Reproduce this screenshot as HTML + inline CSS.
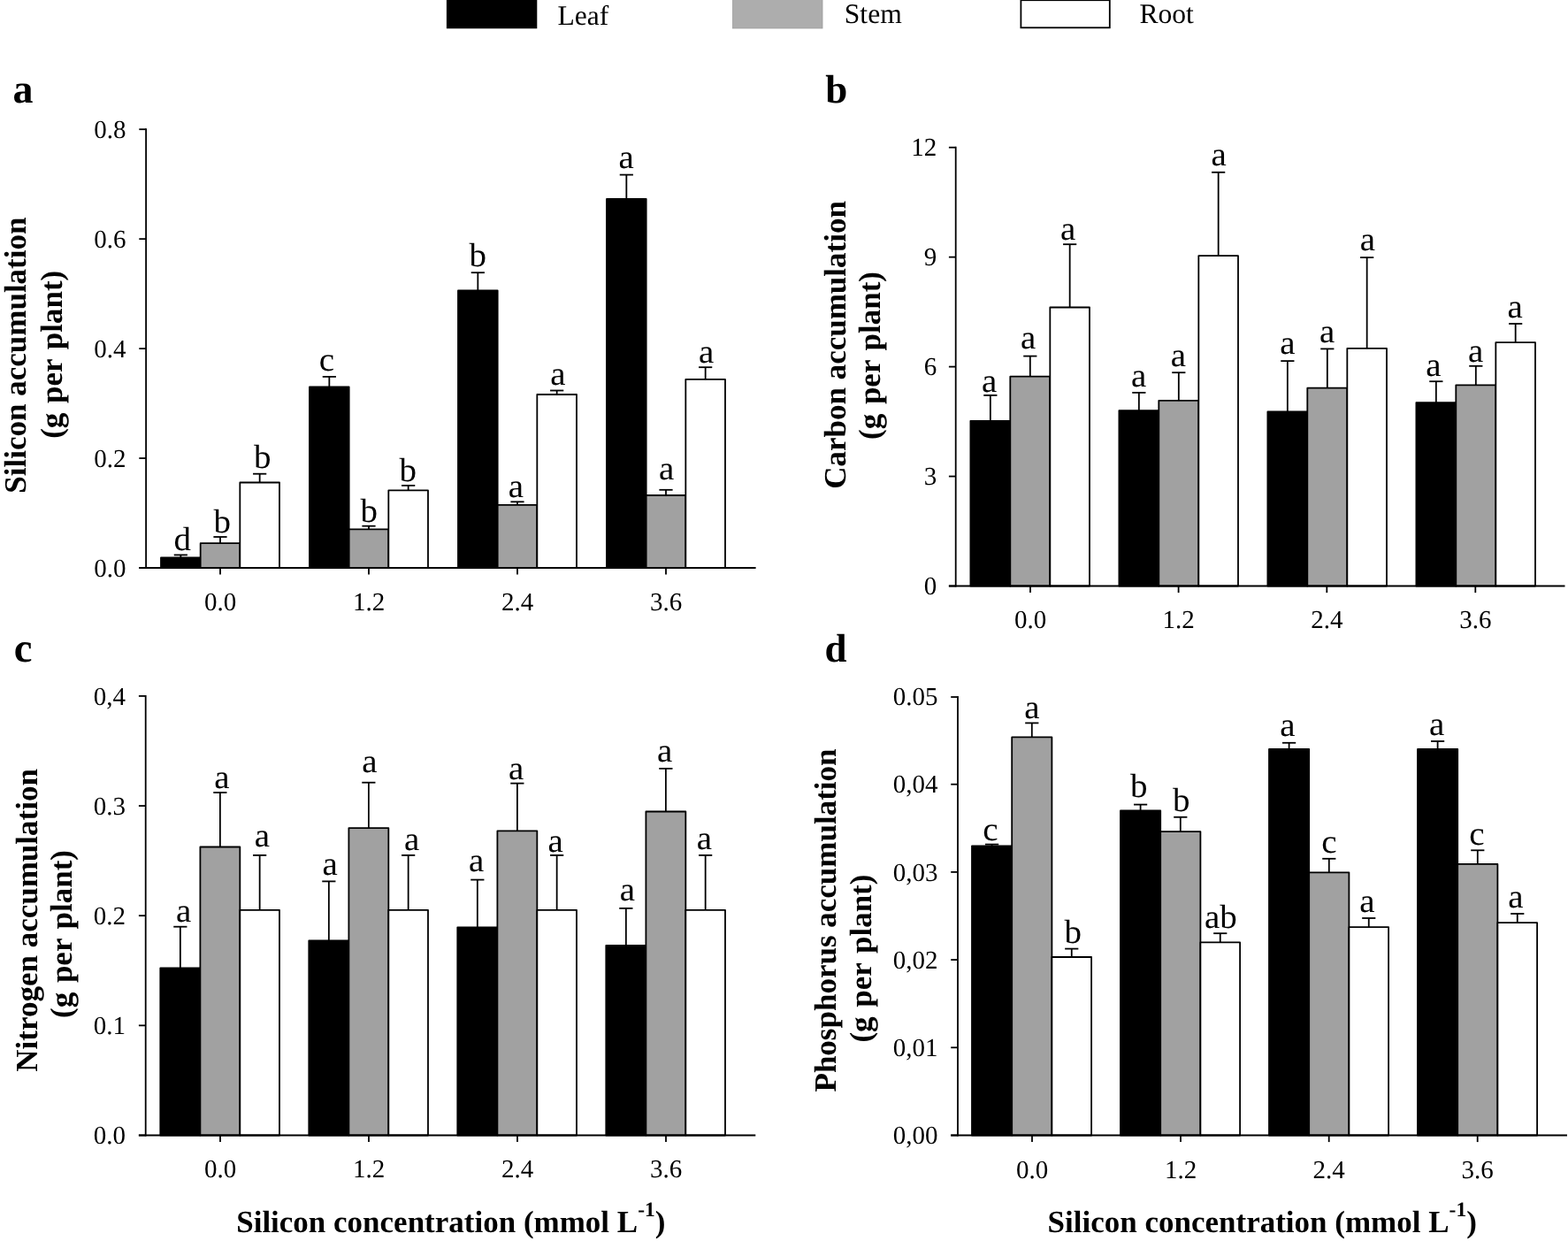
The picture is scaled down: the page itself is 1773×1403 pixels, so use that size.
<!DOCTYPE html>
<html lang="en"><head><meta charset="utf-8"><title>Silicon, carbon, nitrogen and phosphorus accumulation</title>
<style>
html,body{margin:0;padding:0;background:#fff;}
body{width:1773px;height:1403px;overflow:hidden;}
svg{display:block;font-family:"Liberation Serif","DejaVu Serif",serif;fill:#000;text-rendering:geometricPrecision;}
figure{margin:0;padding:0;width:1773px;height:1403px;}
</style></head><body>
<figure>
<svg width="1773" height="1403" viewBox="0 0 1773 1403" role="img" aria-label="Bar charts of silicon, carbon, nitrogen and phosphorus accumulation in leaf, stem and root at four silicon concentrations">
<rect x="0" y="0" width="1773" height="1403" fill="#fff"/>
<rect x="505.8" y="-2" width="100.6" height="33.4" fill="#000" stroke="#000" stroke-width="1.8"/>
<rect x="828.6" y="-2" width="101.4" height="34" fill="#adadad" stroke="#9c9c9c" stroke-width="0.8"/>
<rect x="1154.4" y="0.2" width="100.4" height="31.1" fill="#fff" stroke="#000" stroke-width="1.8"/>
<text x="630.4" y="27.7" font-size="31.6" text-anchor="start">Leaf</text>
<text x="954.8" y="25.7" font-size="31.6" text-anchor="start">Stem</text>
<text x="1288.4" y="25.7" font-size="31.6" text-anchor="start">Root</text>
<line x1="204.34" y1="630.3" x2="204.34" y2="627.4" stroke="#000" stroke-width="1.8" stroke-linecap="butt"/>
<line x1="196.74" y1="627.4" x2="211.94" y2="627.4" stroke="#000" stroke-width="1.8" stroke-linecap="butt"/>
<rect x="182" y="630.3" width="44.67" height="11.7" fill="#000" stroke="#000" stroke-width="1.8" stroke-linejoin="round"/>
<text transform="translate(206.36 622.4) scale(1 0.97)" font-size="39" text-anchor="middle">d</text>
<line x1="249" y1="614.2" x2="249" y2="607" stroke="#000" stroke-width="1.8" stroke-linecap="butt"/>
<line x1="241.4" y1="607" x2="256.6" y2="607" stroke="#000" stroke-width="1.8" stroke-linecap="butt"/>
<rect x="226.67" y="614.2" width="44.66" height="27.8" fill="#a1a1a1" stroke="#000" stroke-width="1.8" stroke-linejoin="round"/>
<text transform="translate(251.23 602) scale(1 0.97)" font-size="39" text-anchor="middle">b</text>
<line x1="293.66" y1="545.5" x2="293.66" y2="535.7" stroke="#000" stroke-width="1.8" stroke-linecap="butt"/>
<line x1="286.06" y1="535.7" x2="301.26" y2="535.7" stroke="#000" stroke-width="1.8" stroke-linecap="butt"/>
<rect x="271.33" y="545.5" width="44.67" height="96.5" fill="#fff" stroke="#000" stroke-width="1.8" stroke-linejoin="round"/>
<text transform="translate(296.83 528.9) scale(1 0.97)" font-size="39" text-anchor="middle">b</text>
<line x1="372.34" y1="437.5" x2="372.34" y2="425.9" stroke="#000" stroke-width="1.8" stroke-linecap="butt"/>
<line x1="364.74" y1="425.9" x2="379.94" y2="425.9" stroke="#000" stroke-width="1.8" stroke-linecap="butt"/>
<rect x="350" y="437.5" width="44.67" height="204.5" fill="#000" stroke="#000" stroke-width="1.8" stroke-linejoin="round"/>
<text transform="translate(369.38 418.9) scale(1 0.97)" font-size="39" text-anchor="middle">c</text>
<line x1="417" y1="598.3" x2="417" y2="594.7" stroke="#000" stroke-width="1.8" stroke-linecap="butt"/>
<line x1="409.4" y1="594.7" x2="424.6" y2="594.7" stroke="#000" stroke-width="1.8" stroke-linecap="butt"/>
<rect x="394.67" y="598.3" width="44.66" height="43.7" fill="#a1a1a1" stroke="#000" stroke-width="1.8" stroke-linejoin="round"/>
<text transform="translate(417.23 589.6) scale(1 0.97)" font-size="39" text-anchor="middle">b</text>
<line x1="461.66" y1="554.3" x2="461.66" y2="548.9" stroke="#000" stroke-width="1.8" stroke-linecap="butt"/>
<line x1="454.06" y1="548.9" x2="469.26" y2="548.9" stroke="#000" stroke-width="1.8" stroke-linecap="butt"/>
<rect x="439.33" y="554.3" width="44.67" height="87.7" fill="#fff" stroke="#000" stroke-width="1.8" stroke-linejoin="round"/>
<text transform="translate(461.33 543.7) scale(1 0.97)" font-size="39" text-anchor="middle">b</text>
<line x1="540.34" y1="328.5" x2="540.34" y2="308.2" stroke="#000" stroke-width="1.8" stroke-linecap="butt"/>
<line x1="532.74" y1="308.2" x2="547.94" y2="308.2" stroke="#000" stroke-width="1.8" stroke-linecap="butt"/>
<rect x="518" y="328.5" width="44.67" height="313.5" fill="#000" stroke="#000" stroke-width="1.8" stroke-linejoin="round"/>
<text transform="translate(540.13 301.4) scale(1 0.97)" font-size="39" text-anchor="middle">b</text>
<line x1="585" y1="570.8" x2="585" y2="567.3" stroke="#000" stroke-width="1.8" stroke-linecap="butt"/>
<line x1="577.4" y1="567.3" x2="592.6" y2="567.3" stroke="#000" stroke-width="1.8" stroke-linecap="butt"/>
<rect x="562.67" y="570.8" width="44.66" height="71.2" fill="#a1a1a1" stroke="#000" stroke-width="1.8" stroke-linejoin="round"/>
<text transform="translate(583.39 561.8) scale(1 0.97)" font-size="39" text-anchor="middle">a</text>
<line x1="629.66" y1="446" x2="629.66" y2="441.5" stroke="#000" stroke-width="1.8" stroke-linecap="butt"/>
<line x1="622.06" y1="441.5" x2="637.26" y2="441.5" stroke="#000" stroke-width="1.8" stroke-linecap="butt"/>
<rect x="607.33" y="446" width="44.67" height="196" fill="#fff" stroke="#000" stroke-width="1.8" stroke-linejoin="round"/>
<text transform="translate(630.89 434.9) scale(1 0.97)" font-size="39" text-anchor="middle">a</text>
<line x1="708.34" y1="224.9" x2="708.34" y2="197.6" stroke="#000" stroke-width="1.8" stroke-linecap="butt"/>
<line x1="700.74" y1="197.6" x2="715.94" y2="197.6" stroke="#000" stroke-width="1.8" stroke-linecap="butt"/>
<rect x="686" y="224.9" width="44.67" height="417.1" fill="#000" stroke="#000" stroke-width="1.8" stroke-linejoin="round"/>
<text transform="translate(708.19 189.6) scale(1 0.97)" font-size="39" text-anchor="middle">a</text>
<line x1="753" y1="560" x2="753" y2="553.8" stroke="#000" stroke-width="1.8" stroke-linecap="butt"/>
<line x1="745.4" y1="553.8" x2="760.6" y2="553.8" stroke="#000" stroke-width="1.8" stroke-linecap="butt"/>
<rect x="730.67" y="560" width="44.66" height="82" fill="#a1a1a1" stroke="#000" stroke-width="1.8" stroke-linejoin="round"/>
<text transform="translate(753.59 541.5) scale(1 0.97)" font-size="39" text-anchor="middle">a</text>
<line x1="797.66" y1="428.9" x2="797.66" y2="415.2" stroke="#000" stroke-width="1.8" stroke-linecap="butt"/>
<line x1="790.06" y1="415.2" x2="805.26" y2="415.2" stroke="#000" stroke-width="1.8" stroke-linecap="butt"/>
<rect x="775.33" y="428.9" width="44.67" height="213.1" fill="#fff" stroke="#000" stroke-width="1.8" stroke-linejoin="round"/>
<text transform="translate(798.59 409.6) scale(1 0.97)" font-size="39" text-anchor="middle">a</text>
<line x1="165.1" y1="145.3" x2="165.1" y2="642.9" stroke="#000" stroke-width="1.8" stroke-linecap="butt"/>
<line x1="157.3" y1="642" x2="854.6" y2="642" stroke="#000" stroke-width="1.8" stroke-linecap="butt"/>
<line x1="157.3" y1="642" x2="165.1" y2="642" stroke="#000" stroke-width="1.8" stroke-linecap="butt"/>
<text x="142.5" y="651.7" font-size="29" text-anchor="end">0.0</text>
<line x1="157.3" y1="518.05" x2="165.1" y2="518.05" stroke="#000" stroke-width="1.8" stroke-linecap="butt"/>
<text x="142.5" y="527.75" font-size="29" text-anchor="end">0.2</text>
<line x1="157.3" y1="394.1" x2="165.1" y2="394.1" stroke="#000" stroke-width="1.8" stroke-linecap="butt"/>
<text x="142.5" y="403.8" font-size="29" text-anchor="end">0.4</text>
<line x1="157.3" y1="270.15" x2="165.1" y2="270.15" stroke="#000" stroke-width="1.8" stroke-linecap="butt"/>
<text x="142.5" y="279.85" font-size="29" text-anchor="end">0.6</text>
<line x1="157.3" y1="146.2" x2="165.1" y2="146.2" stroke="#000" stroke-width="1.8" stroke-linecap="butt"/>
<text x="142.5" y="155.9" font-size="29" text-anchor="end">0.8</text>
<line x1="249" y1="642" x2="249" y2="649.6" stroke="#000" stroke-width="1.8" stroke-linecap="butt"/>
<text x="249" y="689.8" font-size="29" text-anchor="middle">0.0</text>
<line x1="417" y1="642" x2="417" y2="649.6" stroke="#000" stroke-width="1.8" stroke-linecap="butt"/>
<text x="417" y="689.8" font-size="29" text-anchor="middle">1.2</text>
<line x1="585" y1="642" x2="585" y2="649.6" stroke="#000" stroke-width="1.8" stroke-linecap="butt"/>
<text x="585" y="689.8" font-size="29" text-anchor="middle">2.4</text>
<line x1="753" y1="642" x2="753" y2="649.6" stroke="#000" stroke-width="1.8" stroke-linecap="butt"/>
<text x="753" y="689.8" font-size="29" text-anchor="middle">3.6</text>
<text transform="translate(29 401.6) rotate(-90)" font-size="35" font-weight="bold" text-anchor="middle">Silicon accumulation</text>
<text transform="translate(70 400.8) rotate(-90)" font-size="35" font-weight="bold" text-anchor="middle" word-spacing="2">(g per plant)</text>
<text x="14.6" y="115.8" font-size="46" text-anchor="start" font-weight="bold">a</text>
<line x1="1119.85" y1="475.8" x2="1119.85" y2="446.9" stroke="#000" stroke-width="1.8" stroke-linecap="butt"/>
<line x1="1112.25" y1="446.9" x2="1127.45" y2="446.9" stroke="#000" stroke-width="1.8" stroke-linecap="butt"/>
<rect x="1097.4" y="475.8" width="44.9" height="186.7" fill="#000" stroke="#000" stroke-width="1.8" stroke-linejoin="round"/>
<text transform="translate(1118.59 442.9) scale(1 0.97)" font-size="39" text-anchor="middle">a</text>
<line x1="1164.82" y1="425.7" x2="1164.82" y2="402.6" stroke="#000" stroke-width="1.8" stroke-linecap="butt"/>
<line x1="1157.22" y1="402.6" x2="1172.41" y2="402.6" stroke="#000" stroke-width="1.8" stroke-linecap="butt"/>
<rect x="1142.3" y="425.7" width="45.03" height="236.8" fill="#a1a1a1" stroke="#000" stroke-width="1.8" stroke-linejoin="round"/>
<text transform="translate(1162.59 393.9) scale(1 0.97)" font-size="39" text-anchor="middle">a</text>
<line x1="1209.66" y1="347.5" x2="1209.66" y2="276.2" stroke="#000" stroke-width="1.8" stroke-linecap="butt"/>
<line x1="1202.07" y1="276.2" x2="1217.26" y2="276.2" stroke="#000" stroke-width="1.8" stroke-linecap="butt"/>
<rect x="1187.33" y="347.5" width="44.67" height="315" fill="#fff" stroke="#000" stroke-width="1.8" stroke-linejoin="round"/>
<text transform="translate(1207.59 270.7) scale(1 0.97)" font-size="39" text-anchor="middle">a</text>
<line x1="1287.85" y1="464.1" x2="1287.85" y2="443.9" stroke="#000" stroke-width="1.8" stroke-linecap="butt"/>
<line x1="1280.25" y1="443.9" x2="1295.45" y2="443.9" stroke="#000" stroke-width="1.8" stroke-linecap="butt"/>
<rect x="1265.4" y="464.1" width="44.9" height="198.4" fill="#000" stroke="#000" stroke-width="1.8" stroke-linejoin="round"/>
<text transform="translate(1287.59 437.1) scale(1 0.97)" font-size="39" text-anchor="middle">a</text>
<line x1="1332.82" y1="452.9" x2="1332.82" y2="421.2" stroke="#000" stroke-width="1.8" stroke-linecap="butt"/>
<line x1="1325.22" y1="421.2" x2="1340.41" y2="421.2" stroke="#000" stroke-width="1.8" stroke-linecap="butt"/>
<rect x="1310.3" y="452.9" width="45.03" height="209.6" fill="#a1a1a1" stroke="#000" stroke-width="1.8" stroke-linejoin="round"/>
<text transform="translate(1332.39 414) scale(1 0.97)" font-size="39" text-anchor="middle">a</text>
<line x1="1377.66" y1="289.1" x2="1377.66" y2="194.8" stroke="#000" stroke-width="1.8" stroke-linecap="butt"/>
<line x1="1370.07" y1="194.8" x2="1385.26" y2="194.8" stroke="#000" stroke-width="1.8" stroke-linecap="butt"/>
<rect x="1355.33" y="289.1" width="44.67" height="373.4" fill="#fff" stroke="#000" stroke-width="1.8" stroke-linejoin="round"/>
<text transform="translate(1378.19 186.6) scale(1 0.97)" font-size="39" text-anchor="middle">a</text>
<line x1="1455.85" y1="465.5" x2="1455.85" y2="408.1" stroke="#000" stroke-width="1.8" stroke-linecap="butt"/>
<line x1="1448.25" y1="408.1" x2="1463.45" y2="408.1" stroke="#000" stroke-width="1.8" stroke-linecap="butt"/>
<rect x="1433.4" y="465.5" width="44.9" height="197" fill="#000" stroke="#000" stroke-width="1.8" stroke-linejoin="round"/>
<text transform="translate(1455.79 399.9) scale(1 0.97)" font-size="39" text-anchor="middle">a</text>
<line x1="1500.82" y1="438.7" x2="1500.82" y2="394.4" stroke="#000" stroke-width="1.8" stroke-linecap="butt"/>
<line x1="1493.22" y1="394.4" x2="1508.41" y2="394.4" stroke="#000" stroke-width="1.8" stroke-linecap="butt"/>
<rect x="1478.3" y="438.7" width="45.03" height="223.8" fill="#a1a1a1" stroke="#000" stroke-width="1.8" stroke-linejoin="round"/>
<text transform="translate(1500.59 386.8) scale(1 0.97)" font-size="39" text-anchor="middle">a</text>
<line x1="1545.66" y1="393.9" x2="1545.66" y2="291.1" stroke="#000" stroke-width="1.8" stroke-linecap="butt"/>
<line x1="1538.07" y1="291.1" x2="1553.26" y2="291.1" stroke="#000" stroke-width="1.8" stroke-linecap="butt"/>
<rect x="1523.33" y="393.9" width="44.67" height="268.6" fill="#fff" stroke="#000" stroke-width="1.8" stroke-linejoin="round"/>
<text transform="translate(1546.39 282.5) scale(1 0.97)" font-size="39" text-anchor="middle">a</text>
<line x1="1623.85" y1="455.1" x2="1623.85" y2="431.2" stroke="#000" stroke-width="1.8" stroke-linecap="butt"/>
<line x1="1616.25" y1="431.2" x2="1631.45" y2="431.2" stroke="#000" stroke-width="1.8" stroke-linecap="butt"/>
<rect x="1601.4" y="455.1" width="44.9" height="207.4" fill="#000" stroke="#000" stroke-width="1.8" stroke-linejoin="round"/>
<text transform="translate(1620.99 424.5) scale(1 0.97)" font-size="39" text-anchor="middle">a</text>
<line x1="1668.82" y1="435.3" x2="1668.82" y2="413.8" stroke="#000" stroke-width="1.8" stroke-linecap="butt"/>
<line x1="1661.22" y1="413.8" x2="1676.41" y2="413.8" stroke="#000" stroke-width="1.8" stroke-linecap="butt"/>
<rect x="1646.3" y="435.3" width="45.03" height="227.2" fill="#a1a1a1" stroke="#000" stroke-width="1.8" stroke-linejoin="round"/>
<text transform="translate(1668.59 408.9) scale(1 0.97)" font-size="39" text-anchor="middle">a</text>
<line x1="1713.66" y1="387.2" x2="1713.66" y2="366" stroke="#000" stroke-width="1.8" stroke-linecap="butt"/>
<line x1="1706.07" y1="366" x2="1721.26" y2="366" stroke="#000" stroke-width="1.8" stroke-linecap="butt"/>
<rect x="1691.33" y="387.2" width="44.67" height="275.3" fill="#fff" stroke="#000" stroke-width="1.8" stroke-linejoin="round"/>
<text transform="translate(1713.19 359) scale(1 0.97)" font-size="39" text-anchor="middle">a</text>
<line x1="1080.7" y1="165.8" x2="1080.7" y2="663.4" stroke="#000" stroke-width="1.8" stroke-linecap="butt"/>
<line x1="1072.9" y1="662.5" x2="1769.5" y2="662.5" stroke="#000" stroke-width="1.8" stroke-linecap="butt"/>
<line x1="1072.9" y1="662.5" x2="1080.7" y2="662.5" stroke="#000" stroke-width="1.8" stroke-linecap="butt"/>
<text x="1059.3" y="672.2" font-size="29" text-anchor="end">0</text>
<line x1="1072.9" y1="538.55" x2="1080.7" y2="538.55" stroke="#000" stroke-width="1.8" stroke-linecap="butt"/>
<text x="1059.3" y="548.25" font-size="29" text-anchor="end">3</text>
<line x1="1072.9" y1="414.6" x2="1080.7" y2="414.6" stroke="#000" stroke-width="1.8" stroke-linecap="butt"/>
<text x="1059.3" y="424.3" font-size="29" text-anchor="end">6</text>
<line x1="1072.9" y1="290.65" x2="1080.7" y2="290.65" stroke="#000" stroke-width="1.8" stroke-linecap="butt"/>
<text x="1059.3" y="300.35" font-size="29" text-anchor="end">9</text>
<line x1="1072.9" y1="166.7" x2="1080.7" y2="166.7" stroke="#000" stroke-width="1.8" stroke-linecap="butt"/>
<text x="1059.3" y="176.4" font-size="29" text-anchor="end">12</text>
<line x1="1165" y1="662.5" x2="1165" y2="670.1" stroke="#000" stroke-width="1.8" stroke-linecap="butt"/>
<text x="1165" y="709.8" font-size="29" text-anchor="middle">0.0</text>
<line x1="1332.6" y1="662.5" x2="1332.6" y2="670.1" stroke="#000" stroke-width="1.8" stroke-linecap="butt"/>
<text x="1332.6" y="709.8" font-size="29" text-anchor="middle">1.2</text>
<line x1="1500.3" y1="662.5" x2="1500.3" y2="670.1" stroke="#000" stroke-width="1.8" stroke-linecap="butt"/>
<text x="1500.3" y="709.8" font-size="29" text-anchor="middle">2.4</text>
<line x1="1668.3" y1="662.5" x2="1668.3" y2="670.1" stroke="#000" stroke-width="1.8" stroke-linecap="butt"/>
<text x="1668.3" y="709.8" font-size="29" text-anchor="middle">3.6</text>
<text transform="translate(956 390) rotate(-90)" font-size="35" font-weight="bold" text-anchor="middle">Carbon accumulation</text>
<text transform="translate(994.7 402) rotate(-90)" font-size="35" font-weight="bold" text-anchor="middle" word-spacing="2">(g per plant)</text>
<text x="933.3" y="116.3" font-size="45" text-anchor="start" font-weight="bold">b</text>
<line x1="203.85" y1="1094.5" x2="203.85" y2="1047.7" stroke="#000" stroke-width="1.8" stroke-linecap="butt"/>
<line x1="196.25" y1="1047.7" x2="211.45" y2="1047.7" stroke="#000" stroke-width="1.8" stroke-linecap="butt"/>
<rect x="181.3" y="1094.5" width="45.1" height="189" fill="#000" stroke="#000" stroke-width="1.8" stroke-linejoin="round"/>
<text transform="translate(207.59 1042) scale(1 0.97)" font-size="39" text-anchor="middle">a</text>
<line x1="248.87" y1="957.5" x2="248.87" y2="896" stroke="#000" stroke-width="1.8" stroke-linecap="butt"/>
<line x1="241.27" y1="896" x2="256.47" y2="896" stroke="#000" stroke-width="1.8" stroke-linecap="butt"/>
<rect x="226.4" y="957.5" width="44.93" height="326" fill="#a1a1a1" stroke="#000" stroke-width="1.8" stroke-linejoin="round"/>
<text transform="translate(250.79 891.2) scale(1 0.97)" font-size="39" text-anchor="middle">a</text>
<line x1="293.66" y1="1028.8" x2="293.66" y2="966.9" stroke="#000" stroke-width="1.8" stroke-linecap="butt"/>
<line x1="286.06" y1="966.9" x2="301.26" y2="966.9" stroke="#000" stroke-width="1.8" stroke-linecap="butt"/>
<rect x="271.33" y="1028.8" width="44.67" height="254.7" fill="#fff" stroke="#000" stroke-width="1.8" stroke-linejoin="round"/>
<text transform="translate(296.29 956.7) scale(1 0.97)" font-size="39" text-anchor="middle">a</text>
<line x1="371.85" y1="1063.4" x2="371.85" y2="996.4" stroke="#000" stroke-width="1.8" stroke-linecap="butt"/>
<line x1="364.25" y1="996.4" x2="379.45" y2="996.4" stroke="#000" stroke-width="1.8" stroke-linecap="butt"/>
<rect x="349.3" y="1063.4" width="45.1" height="220.1" fill="#000" stroke="#000" stroke-width="1.8" stroke-linejoin="round"/>
<text transform="translate(373.09 989) scale(1 0.97)" font-size="39" text-anchor="middle">a</text>
<line x1="416.87" y1="936.1" x2="416.87" y2="884.7" stroke="#000" stroke-width="1.8" stroke-linecap="butt"/>
<line x1="409.26" y1="884.7" x2="424.47" y2="884.7" stroke="#000" stroke-width="1.8" stroke-linecap="butt"/>
<rect x="394.4" y="936.1" width="44.93" height="347.4" fill="#a1a1a1" stroke="#000" stroke-width="1.8" stroke-linejoin="round"/>
<text transform="translate(417.79 873.4) scale(1 0.97)" font-size="39" text-anchor="middle">a</text>
<line x1="461.66" y1="1028.8" x2="461.66" y2="966.9" stroke="#000" stroke-width="1.8" stroke-linecap="butt"/>
<line x1="454.06" y1="966.9" x2="469.26" y2="966.9" stroke="#000" stroke-width="1.8" stroke-linecap="butt"/>
<rect x="439.33" y="1028.8" width="44.67" height="254.7" fill="#fff" stroke="#000" stroke-width="1.8" stroke-linejoin="round"/>
<text transform="translate(465.59 960.7) scale(1 0.97)" font-size="39" text-anchor="middle">a</text>
<line x1="539.85" y1="1048.3" x2="539.85" y2="994.6" stroke="#000" stroke-width="1.8" stroke-linecap="butt"/>
<line x1="532.25" y1="994.6" x2="547.45" y2="994.6" stroke="#000" stroke-width="1.8" stroke-linecap="butt"/>
<rect x="517.3" y="1048.3" width="45.1" height="235.2" fill="#000" stroke="#000" stroke-width="1.8" stroke-linejoin="round"/>
<text transform="translate(538.59 984.8) scale(1 0.97)" font-size="39" text-anchor="middle">a</text>
<line x1="584.87" y1="939.4" x2="584.87" y2="885.6" stroke="#000" stroke-width="1.8" stroke-linecap="butt"/>
<line x1="577.26" y1="885.6" x2="592.47" y2="885.6" stroke="#000" stroke-width="1.8" stroke-linecap="butt"/>
<rect x="562.4" y="939.4" width="44.93" height="344.1" fill="#a1a1a1" stroke="#000" stroke-width="1.8" stroke-linejoin="round"/>
<text transform="translate(583.59 880.7) scale(1 0.97)" font-size="39" text-anchor="middle">a</text>
<line x1="629.66" y1="1028.8" x2="629.66" y2="966.9" stroke="#000" stroke-width="1.8" stroke-linecap="butt"/>
<line x1="622.06" y1="966.9" x2="637.26" y2="966.9" stroke="#000" stroke-width="1.8" stroke-linecap="butt"/>
<rect x="607.33" y="1028.8" width="44.67" height="254.7" fill="#fff" stroke="#000" stroke-width="1.8" stroke-linejoin="round"/>
<text transform="translate(628.09 962.9) scale(1 0.97)" font-size="39" text-anchor="middle">a</text>
<line x1="707.85" y1="1069" x2="707.85" y2="1026.9" stroke="#000" stroke-width="1.8" stroke-linecap="butt"/>
<line x1="700.25" y1="1026.9" x2="715.45" y2="1026.9" stroke="#000" stroke-width="1.8" stroke-linecap="butt"/>
<rect x="685.3" y="1069" width="45.1" height="214.5" fill="#000" stroke="#000" stroke-width="1.8" stroke-linejoin="round"/>
<text transform="translate(709.29 1017.5) scale(1 0.97)" font-size="39" text-anchor="middle">a</text>
<line x1="752.87" y1="917.5" x2="752.87" y2="868.9" stroke="#000" stroke-width="1.8" stroke-linecap="butt"/>
<line x1="745.26" y1="868.9" x2="760.47" y2="868.9" stroke="#000" stroke-width="1.8" stroke-linecap="butt"/>
<rect x="730.4" y="917.5" width="44.93" height="366" fill="#a1a1a1" stroke="#000" stroke-width="1.8" stroke-linejoin="round"/>
<text transform="translate(751.59 861) scale(1 0.97)" font-size="39" text-anchor="middle">a</text>
<line x1="797.66" y1="1028.8" x2="797.66" y2="966.9" stroke="#000" stroke-width="1.8" stroke-linecap="butt"/>
<line x1="790.06" y1="966.9" x2="805.26" y2="966.9" stroke="#000" stroke-width="1.8" stroke-linecap="butt"/>
<rect x="775.33" y="1028.8" width="44.67" height="254.7" fill="#fff" stroke="#000" stroke-width="1.8" stroke-linejoin="round"/>
<text transform="translate(796.39 960.3) scale(1 0.97)" font-size="39" text-anchor="middle">a</text>
<line x1="164.7" y1="786" x2="164.7" y2="1284.4" stroke="#000" stroke-width="1.8" stroke-linecap="butt"/>
<line x1="156.9" y1="1283.5" x2="854.3" y2="1283.5" stroke="#000" stroke-width="1.8" stroke-linecap="butt"/>
<line x1="156.9" y1="1283.5" x2="164.7" y2="1283.5" stroke="#000" stroke-width="1.8" stroke-linecap="butt"/>
<text x="142.1" y="1293.2" font-size="29" text-anchor="end">0.0</text>
<line x1="156.9" y1="1159.35" x2="164.7" y2="1159.35" stroke="#000" stroke-width="1.8" stroke-linecap="butt"/>
<text x="142.1" y="1169.05" font-size="29" text-anchor="end">0.1</text>
<line x1="156.9" y1="1035.2" x2="164.7" y2="1035.2" stroke="#000" stroke-width="1.8" stroke-linecap="butt"/>
<text x="142.1" y="1044.9" font-size="29" text-anchor="end">0.2</text>
<line x1="156.9" y1="911.05" x2="164.7" y2="911.05" stroke="#000" stroke-width="1.8" stroke-linecap="butt"/>
<text x="142.1" y="920.75" font-size="29" text-anchor="end">0.3</text>
<line x1="156.9" y1="786.9" x2="164.7" y2="786.9" stroke="#000" stroke-width="1.8" stroke-linecap="butt"/>
<text x="142.1" y="797.1" font-size="29" text-anchor="end">0,4</text>
<line x1="249" y1="1283.5" x2="249" y2="1291.1" stroke="#000" stroke-width="1.8" stroke-linecap="butt"/>
<text x="249" y="1330.7" font-size="29" text-anchor="middle">0.0</text>
<line x1="417" y1="1283.5" x2="417" y2="1291.1" stroke="#000" stroke-width="1.8" stroke-linecap="butt"/>
<text x="417" y="1330.7" font-size="29" text-anchor="middle">1.2</text>
<line x1="585" y1="1283.5" x2="585" y2="1291.1" stroke="#000" stroke-width="1.8" stroke-linecap="butt"/>
<text x="585" y="1330.7" font-size="29" text-anchor="middle">2.4</text>
<line x1="753" y1="1283.5" x2="753" y2="1291.1" stroke="#000" stroke-width="1.8" stroke-linecap="butt"/>
<text x="753" y="1330.7" font-size="29" text-anchor="middle">3.6</text>
<text transform="translate(41.5 1040.4) rotate(-90)" font-size="35" font-weight="bold" text-anchor="middle">Nitrogen accumulation</text>
<text transform="translate(81 1056) rotate(-90)" font-size="35" font-weight="bold" text-anchor="middle" word-spacing="2">(g per plant)</text>
<text x="15.7" y="748" font-size="46.5" text-anchor="start" font-weight="bold">c</text>
<text x="267.2" y="1392.5" font-size="35" font-weight="bold">Silicon concentration (mmol L<tspan font-size="23.45" dy="-17.8">-1</tspan><tspan dy="17.8">)</tspan></text>
<line x1="1121.6" y1="956.3" x2="1121.6" y2="954.6" stroke="#000" stroke-width="1.8" stroke-linecap="butt"/>
<line x1="1114" y1="954.6" x2="1129.2" y2="954.6" stroke="#000" stroke-width="1.8" stroke-linecap="butt"/>
<rect x="1099" y="956.3" width="45.2" height="327.2" fill="#000" stroke="#000" stroke-width="1.8" stroke-linejoin="round"/>
<text transform="translate(1119.88 949.9) scale(1 0.97)" font-size="39" text-anchor="middle">c</text>
<line x1="1166.8" y1="833.4" x2="1166.8" y2="817.4" stroke="#000" stroke-width="1.8" stroke-linecap="butt"/>
<line x1="1159.2" y1="817.4" x2="1174.4" y2="817.4" stroke="#000" stroke-width="1.8" stroke-linecap="butt"/>
<rect x="1144.2" y="833.4" width="45.2" height="450.1" fill="#a1a1a1" stroke="#000" stroke-width="1.8" stroke-linejoin="round"/>
<text transform="translate(1166.79 811.5) scale(1 0.97)" font-size="39" text-anchor="middle">a</text>
<line x1="1211.75" y1="1082" x2="1211.75" y2="1072.6" stroke="#000" stroke-width="1.8" stroke-linecap="butt"/>
<line x1="1204.15" y1="1072.6" x2="1219.35" y2="1072.6" stroke="#000" stroke-width="1.8" stroke-linecap="butt"/>
<rect x="1189.4" y="1082" width="44.7" height="201.5" fill="#fff" stroke="#000" stroke-width="1.8" stroke-linejoin="round"/>
<text transform="translate(1213.23 1065.8) scale(1 0.97)" font-size="39" text-anchor="middle">b</text>
<line x1="1289.6" y1="916.5" x2="1289.6" y2="909.6" stroke="#000" stroke-width="1.8" stroke-linecap="butt"/>
<line x1="1282" y1="909.6" x2="1297.2" y2="909.6" stroke="#000" stroke-width="1.8" stroke-linecap="butt"/>
<rect x="1267" y="916.5" width="45.2" height="367" fill="#000" stroke="#000" stroke-width="1.8" stroke-linejoin="round"/>
<text transform="translate(1287.63 900.6) scale(1 0.97)" font-size="39" text-anchor="middle">b</text>
<line x1="1334.8" y1="940.1" x2="1334.8" y2="923.8" stroke="#000" stroke-width="1.8" stroke-linecap="butt"/>
<line x1="1327.2" y1="923.8" x2="1342.4" y2="923.8" stroke="#000" stroke-width="1.8" stroke-linecap="butt"/>
<rect x="1312.2" y="940.1" width="45.2" height="343.4" fill="#a1a1a1" stroke="#000" stroke-width="1.8" stroke-linejoin="round"/>
<text transform="translate(1335.63 916.8) scale(1 0.97)" font-size="39" text-anchor="middle">b</text>
<line x1="1379.75" y1="1065.4" x2="1379.75" y2="1055.2" stroke="#000" stroke-width="1.8" stroke-linecap="butt"/>
<line x1="1372.15" y1="1055.2" x2="1387.35" y2="1055.2" stroke="#000" stroke-width="1.8" stroke-linecap="butt"/>
<rect x="1357.4" y="1065.4" width="44.7" height="218.1" fill="#fff" stroke="#000" stroke-width="1.8" stroke-linejoin="round"/>
<text transform="translate(1380.34 1048.6) scale(1 0.97)" font-size="39" text-anchor="middle">ab</text>
<line x1="1457.6" y1="847" x2="1457.6" y2="839.8" stroke="#000" stroke-width="1.8" stroke-linecap="butt"/>
<line x1="1450" y1="839.8" x2="1465.2" y2="839.8" stroke="#000" stroke-width="1.8" stroke-linecap="butt"/>
<rect x="1435" y="847" width="45.2" height="436.5" fill="#000" stroke="#000" stroke-width="1.8" stroke-linejoin="round"/>
<text transform="translate(1455.89 831.8) scale(1 0.97)" font-size="39" text-anchor="middle">a</text>
<line x1="1502.8" y1="986.3" x2="1502.8" y2="970.8" stroke="#000" stroke-width="1.8" stroke-linecap="butt"/>
<line x1="1495.2" y1="970.8" x2="1510.4" y2="970.8" stroke="#000" stroke-width="1.8" stroke-linecap="butt"/>
<rect x="1480.2" y="986.3" width="45.2" height="297.2" fill="#a1a1a1" stroke="#000" stroke-width="1.8" stroke-linejoin="round"/>
<text transform="translate(1502.88 964) scale(1 0.97)" font-size="39" text-anchor="middle">c</text>
<line x1="1547.75" y1="1048.1" x2="1547.75" y2="1038" stroke="#000" stroke-width="1.8" stroke-linecap="butt"/>
<line x1="1540.15" y1="1038" x2="1555.35" y2="1038" stroke="#000" stroke-width="1.8" stroke-linecap="butt"/>
<rect x="1525.4" y="1048.1" width="44.7" height="235.4" fill="#fff" stroke="#000" stroke-width="1.8" stroke-linejoin="round"/>
<text transform="translate(1545.89 1031.2) scale(1 0.97)" font-size="39" text-anchor="middle">a</text>
<line x1="1625.6" y1="847" x2="1625.6" y2="838" stroke="#000" stroke-width="1.8" stroke-linecap="butt"/>
<line x1="1618" y1="838" x2="1633.2" y2="838" stroke="#000" stroke-width="1.8" stroke-linecap="butt"/>
<rect x="1603" y="847" width="45.2" height="436.5" fill="#000" stroke="#000" stroke-width="1.8" stroke-linejoin="round"/>
<text transform="translate(1624.59 830.5) scale(1 0.97)" font-size="39" text-anchor="middle">a</text>
<line x1="1670.8" y1="976.9" x2="1670.8" y2="961.3" stroke="#000" stroke-width="1.8" stroke-linecap="butt"/>
<line x1="1663.2" y1="961.3" x2="1678.4" y2="961.3" stroke="#000" stroke-width="1.8" stroke-linecap="butt"/>
<rect x="1648.2" y="976.9" width="45.2" height="306.6" fill="#a1a1a1" stroke="#000" stroke-width="1.8" stroke-linejoin="round"/>
<text transform="translate(1669.88 954.5) scale(1 0.97)" font-size="39" text-anchor="middle">c</text>
<line x1="1715.75" y1="1043.2" x2="1715.75" y2="1033" stroke="#000" stroke-width="1.8" stroke-linecap="butt"/>
<line x1="1708.15" y1="1033" x2="1723.35" y2="1033" stroke="#000" stroke-width="1.8" stroke-linecap="butt"/>
<rect x="1693.4" y="1043.2" width="44.7" height="240.3" fill="#fff" stroke="#000" stroke-width="1.8" stroke-linejoin="round"/>
<text transform="translate(1713.99 1025.8) scale(1 0.97)" font-size="39" text-anchor="middle">a</text>
<line x1="1083" y1="787.1" x2="1083" y2="1284.4" stroke="#000" stroke-width="1.8" stroke-linecap="butt"/>
<line x1="1075.2" y1="1283.5" x2="1772" y2="1283.5" stroke="#000" stroke-width="1.8" stroke-linecap="butt"/>
<line x1="1075.2" y1="1283.5" x2="1083" y2="1283.5" stroke="#000" stroke-width="1.8" stroke-linecap="butt"/>
<text x="1060.4" y="1293.2" font-size="29" text-anchor="end">0,00</text>
<line x1="1075.2" y1="1184.3" x2="1083" y2="1184.3" stroke="#000" stroke-width="1.8" stroke-linecap="butt"/>
<text x="1060.4" y="1194" font-size="29" text-anchor="end">0,01</text>
<line x1="1075.2" y1="1085.1" x2="1083" y2="1085.1" stroke="#000" stroke-width="1.8" stroke-linecap="butt"/>
<text x="1060.4" y="1094.8" font-size="29" text-anchor="end">0,02</text>
<line x1="1075.2" y1="985.9" x2="1083" y2="985.9" stroke="#000" stroke-width="1.8" stroke-linecap="butt"/>
<text x="1060.4" y="995.6" font-size="29" text-anchor="end">0,03</text>
<line x1="1075.2" y1="886.7" x2="1083" y2="886.7" stroke="#000" stroke-width="1.8" stroke-linecap="butt"/>
<text x="1060.4" y="896.4" font-size="29" text-anchor="end">0,04</text>
<line x1="1075.2" y1="788" x2="1083" y2="788" stroke="#000" stroke-width="1.8" stroke-linecap="butt"/>
<text x="1060.4" y="796.8" font-size="29" text-anchor="end">0.05</text>
<line x1="1167" y1="1283.5" x2="1167" y2="1291.1" stroke="#000" stroke-width="1.8" stroke-linecap="butt"/>
<text x="1167" y="1331.5" font-size="29" text-anchor="middle">0.0</text>
<line x1="1335" y1="1283.5" x2="1335" y2="1291.1" stroke="#000" stroke-width="1.8" stroke-linecap="butt"/>
<text x="1335" y="1331.5" font-size="29" text-anchor="middle">1.2</text>
<line x1="1502.7" y1="1283.5" x2="1502.7" y2="1291.1" stroke="#000" stroke-width="1.8" stroke-linecap="butt"/>
<text x="1502.7" y="1331.5" font-size="29" text-anchor="middle">2.4</text>
<line x1="1670.7" y1="1283.5" x2="1670.7" y2="1291.1" stroke="#000" stroke-width="1.8" stroke-linecap="butt"/>
<text x="1670.7" y="1331.5" font-size="29" text-anchor="middle">3.6</text>
<text transform="translate(944.6 1040.5) rotate(-90)" font-size="35" font-weight="bold" text-anchor="middle">Phosphorus accumulation</text>
<text transform="translate(984.6 1083.6) rotate(-90)" font-size="35" font-weight="bold" text-anchor="middle" word-spacing="2">(g per plant)</text>
<text x="932.6" y="748" font-size="45" text-anchor="start" font-weight="bold">d</text>
<text x="1184.6" y="1392.5" font-size="35" font-weight="bold">Silicon concentration (mmol L<tspan font-size="23.45" dy="-17.8">-1</tspan><tspan dy="17.8">)</tspan></text>
</svg>
</figure>
</body></html>
